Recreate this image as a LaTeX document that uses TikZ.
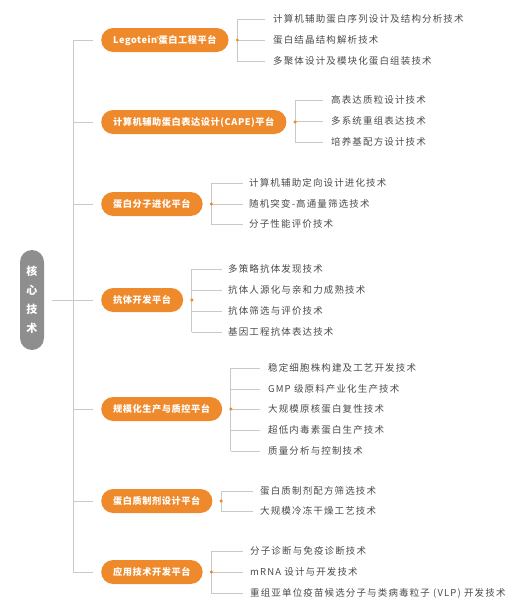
\documentclass[tikz,border=0pt]{standalone}
\usepackage{fontspec}
\setmainfont{Noto Sans CJK SC}
\newfontfamily\itemfont[LetterSpace=12]{Noto Sans CJK SC}
\newfontfamily\platfont[LetterSpace=6]{Noto Sans CJK SC}
\definecolor{orng}{HTML}{EF8A2C}
\definecolor{linegray}{HTML}{C9C9C9}
\definecolor{txtgray}{HTML}{4A4A4A}
\definecolor{centgray}{HTML}{8E8E8E}
\tikzset{
  conn/.style={draw=linegray, line width=0.9pt},
  platform/.style={fill=orng, text=white, rounded corners=12pt, minimum height=24pt,
    inner xsep=12pt, inner ysep=0pt, text height=7pt, text depth=0pt,
    font=\platfont\bfseries\fontsize{9.2pt}{10pt}\selectfont, anchor=west},
  itembox/.style={text=txtgray, inner sep=0pt, text height=7.4pt, text depth=0pt,
    font=\itemfont\fontsize{9.5pt}{10pt}\selectfont, anchor=west},
  center/.style={fill=centgray, text=white, rounded corners=12pt, minimum width=24pt,
    minimum height=100pt, inner sep=0pt, align=center,
    font=\bfseries\fontsize{11pt}{19pt}\selectfont},
  dotmark/.style={fill=orng}
}
\begin{document}
\begin{tikzpicture}[x=1pt,y=-1pt]
\useasboundingbox (0,0) rectangle (531,616);
% central node
\node[center] (c) at (32,300) {核\\心\\技\\术};
% platforms
\node[platform] (p1) at (101,40) {Legotein\kern-0.5pt\raisebox{3pt}{\fontsize{4.5pt}{5pt}\selectfont ®}\kern-0.5pt 蛋白工程平台};
\node[platform] (p2) at (101,122) {计算机辅助蛋白表达设计(CAPE)平台};
\node[platform] (p3) at (101,204) {蛋白分子进化平台};
\node[platform] (p4) at (101,300) {抗体开发平台};
\node[platform] (p5) at (101,409) {规模化生产与质控平台};
\node[platform] (p6) at (101,501) {蛋白质制剂设计平台};
\node[platform] (p7) at (101,572) {应用技术开发平台};
% trunk
\coordinate (tr) at (73,300);
\draw[conn] (tr |- p1.west) -- (tr |- p7.west);
\foreach \p in {p1,p2,p3,p4,p5,p6,p7}
  \draw[conn] (tr |- \p.west) -- ([xshift=-8pt]\p.west);
\draw[conn] ([xshift=8pt]c.east) -- (tr);
% items
\node[itembox] (i11) at (273,19) {计算机辅助蛋白序列设计及结构分析技术};
\node[itembox] (i12) at (273,40) {蛋白结晶结构解析技术};
\node[itembox] (i13) at (273,61) {多聚体设计及模块化蛋白组装技术};
\node[itembox] (i21) at (331,100) {高表达质粒设计技术};
\node[itembox] (i22) at (331,121) {多系统重组表达技术};
\node[itembox] (i23) at (331,142) {培养基配方设计技术};
\node[itembox] (i31) at (249,183) {计算机辅助定向设计进化技术};
\node[itembox] (i32) at (249,204) {随机突变-高通量筛选技术};
\node[itembox] (i33) at (249,224) {分子性能评价技术};
\node[itembox] (i41) at (228,269) {多策略抗体发现技术};
\node[itembox] (i42) at (228,290) {抗体人源化与亲和力成熟技术};
\node[itembox] (i43) at (228,311) {抗体筛选与评价技术};
\node[itembox] (i44) at (228,332) {基因工程抗体表达技术};
\node[itembox] (i51) at (268,368) {稳定细胞株构建及工艺开发技术};
\node[itembox] (i52) at (268,389) {GMP 级原料产业化生产技术};
\node[itembox] (i53) at (268,409) {大规模原核蛋白复性技术};
\node[itembox] (i54) at (268,430) {超低内毒素蛋白生产技术};
\node[itembox] (i55) at (268,451) {质量分析与控制技术};
\node[itembox] (i61) at (260,491) {蛋白质制剂配方筛选技术};
\node[itembox] (i62) at (260,511) {大规模冷冻干燥工艺技术};
\node[itembox] (i71) at (250,551) {分子诊断与免疫诊断技术};
\node[itembox] (i72) at (250,572) {mRNA 设计与开发技术};
\node[itembox] (i73) at (250,593) {重组亚单位疫苗候选分子与类病毒粒子 (VLP) 开发技术};
% branches
\coordinate (b1) at ([xshift=8.5pt]p1.east);
\coordinate (b2) at ([xshift=8.5pt]p2.east);
\coordinate (b3) at ([xshift=8.5pt]p3.east);
\coordinate (b4) at ([xshift=8.5pt]p4.east);
\coordinate (b5) at ([xshift=8.5pt]p5.east);
\coordinate (b6) at ([xshift=8.5pt]p6.east);
\coordinate (b7) at ([xshift=8.5pt]p7.east);
\draw[conn] (b1 |- i11.west) -- (b1 |- i13.west);
\foreach \i in {i11,i12,i13} \draw[conn] (b1 |- \i.west) -- ([xshift=-8pt]\i.west);
\draw[conn] (b2 |- i21.west) -- (b2 |- i23.west);
\foreach \i in {i21,i22,i23} \draw[conn] (b2 |- \i.west) -- ([xshift=-8pt]\i.west);
\draw[conn] (b3 |- i31.west) -- (b3 |- i33.west);
\foreach \i in {i31,i32,i33} \draw[conn] (b3 |- \i.west) -- ([xshift=-6pt]\i.west);
\draw[conn] (b4 |- i41.west) -- (b4 |- i44.west);
\foreach \i in {i41,i42,i43,i44} \draw[conn] (b4 |- \i.west) -- ([xshift=-6pt]\i.west);
\draw[conn] (b5 |- i51.west) -- (b5 |- i55.west);
\foreach \i in {i51,i52,i53,i54,i55} \draw[conn] (b5 |- \i.west) -- ([xshift=-8pt]\i.west);
\draw[conn] (b6 |- i61.west) -- (b6 |- i62.west);
\foreach \i in {i61,i62} \draw[conn] (b6 |- \i.west) -- ([xshift=-7pt]\i.west);
\draw[conn] (b7 |- i71.west) -- (b7 |- i73.west);
\foreach \i in {i71,i72,i73} \draw[conn] (b7 |- \i.west) -- ([xshift=-7pt]\i.west);
\foreach \b in {b1,b2,b3,b4,b5,b6,b7} \fill[dotmark] (\b) circle (1.7pt);
\end{tikzpicture}
\end{document}
